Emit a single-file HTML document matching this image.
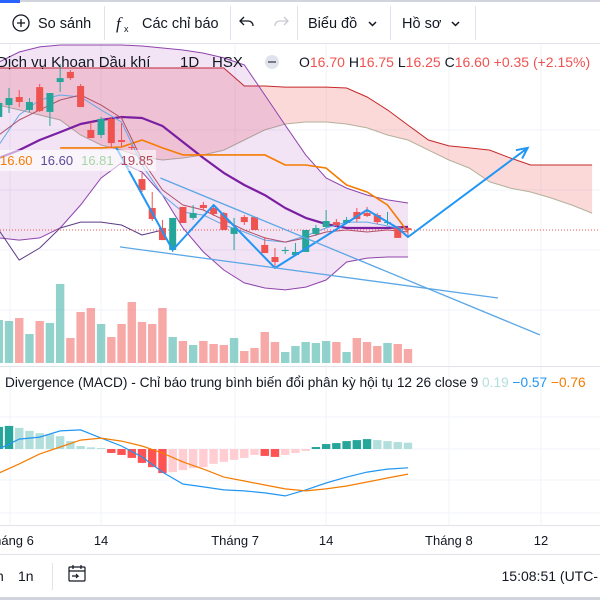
<!DOCTYPE html>
<html><head><meta charset="utf-8"><style>
html,body{margin:0;padding:0;background:#fff;width:600px;height:600px;overflow:hidden}
svg{display:block;font-family:"Liberation Sans","Noto Sans CJK SC",sans-serif}
</style></head><body>
<svg id="c" width="600" height="600" viewBox="0 0 600 600">
<rect x="0" y="0" width="600" height="600" fill="#fff"/>
<g id="grid"></g>
<g id="cloud"></g>
<g id="bb"></g>
<g id="vol"></g>
<g id="lines"></g>
<g id="candles"></g>
<g id="draw"></g>
<g id="macd"></g>
<g id="axis"></g>

<!-- toolbar -->
<rect x="0" y="0" width="600" height="2" fill="#d1d4dc"/>
<rect x="0" y="0" width="20" height="3" fill="#2962ff"/>
<line x1="0" y1="43.5" x2="600" y2="43.5" stroke="#e0e3eb"/>
<g>
<circle cx="21" cy="23" r="8" fill="none" stroke="#131722" stroke-width="1.3"/>
<path d="M17 23h8M21 19v8" stroke="#131722" stroke-width="1.3"/>
<text x="38" y="28" font-size="14.5" fill="#131722">So sánh</text></g>
<line x1="104.5" y1="6" x2="104.5" y2="40" stroke="#e0e3eb"/>
<g>
<text x="116" y="29" font-size="17" font-style="italic" fill="#131722" font-family="Liberation Serif,serif">f</text>
<text x="124" y="32" font-size="9" fill="#131722">x</text>
<text x="142" y="28" font-size="14.5" fill="#131722">Các chỉ báo</text></g>
<line x1="230.5" y1="6" x2="230.5" y2="40" stroke="#e0e3eb"/>
<path d="M244 20l-4 4 4 4M240 24h8c3 0 5 2 5 5" fill="none" stroke="#131722" stroke-width="1.3" transform="translate(0,-3)"/>
<path d="M284 20l4 4-4 4M288 24h-8c-3 0-5 2-5 5" fill="none" stroke="#c8cad0" stroke-width="1.3" transform="translate(0,-3)"/>
<line x1="297.5" y1="6" x2="297.5" y2="40" stroke="#e0e3eb"/>
<g>
<text x="308" y="28" font-size="14.5" fill="#131722">Biểu đồ</text>
<path d="M369 22l3.5 3.5 3.5-3.5" fill="none" stroke="#131722" stroke-width="1.5"/></g>
<line x1="390.5" y1="6" x2="390.5" y2="40" stroke="#e0e3eb"/>
<g>
<text x="402" y="28" font-size="14.5" fill="#131722">Hồ sơ</text>
<path d="M452 22l3.5 3.5 3.5-3.5" fill="none" stroke="#131722" stroke-width="1.5"/></g>
<line x1="475.5" y1="6" x2="475.5" y2="40" stroke="#e0e3eb"/>

<!-- legend -->
<g font-size="15" fill="#131722">
<text x="-3" y="67">Dịch vụ Khoan Dầu khí</text>
<text x="180" y="67">1D</text>
<text x="212" y="67">HSX</text></g>
<circle cx="272" cy="62" r="7" fill="#e0e3eb"/>
<rect x="268" y="61" width="8" height="2" fill="#787b86"/>
<text x="299" y="67" font-size="14" fill="#131722">O<tspan fill="#ef5350">16.70</tspan> H<tspan fill="#ef5350">16.75</tspan> L<tspan fill="#ef5350">16.25</tspan> C<tspan fill="#ef5350">16.60</tspan> <tspan fill="#ef5350">+0.35 (+2.15%)</tspan></text>
<rect x="0" y="150" width="156" height="21" fill="#fff" fill-opacity="0.6"/>
<text x="0" y="165" font-size="13"><tspan fill="#f57c00">16.60</tspan><tspan dx="8" fill="#5e4a9a">16.60</tspan><tspan dx="8" fill="#a5d6a7">16.81</tspan><tspan dx="8" fill="#b34a5a">19.85</tspan></text>

<line x1="0" y1="366.5" x2="600" y2="366.5" stroke="#e0e3eb"/>
<text x="5" y="387" font-size="13.7" fill="#131722">Divergence (MACD) - Chỉ báo trung bình biến đổi phân kỳ hội tụ 12 26 close 9 <tspan fill="#b2dfdb">0.19</tspan> <tspan fill="#2196f3">−0.57</tspan> <tspan fill="#f57c00">−0.76</tspan></text>

<line x1="0" y1="525.5" x2="600" y2="525.5" stroke="#e0e3eb"/>
<line x1="0" y1="554.5" x2="600" y2="554.5" stroke="#e0e3eb"/>
<rect x="0" y="597" width="600" height="3" fill="#d1d4dc"/>
<text x="-4" y="581" font-size="14" fill="#131722">n</text>
<text x="18" y="581" font-size="14" fill="#131722">1n</text>
<line x1="52.5" y1="563" x2="52.5" y2="590" stroke="#e0e3eb"/>
<g fill="none" stroke="#131722" stroke-width="1.2">
<rect x="69" y="567" width="16" height="14" rx="1"/><path d="M69 571h16M73 565v4M81 565v4M72 576h6l-2-2M78 576l-2 2"/></g>
<text x="598" y="581" font-size="14" fill="#131722" text-anchor="end">15:08:51 (UTC-</text>
<text x="620" y="581" font-size="14" fill="#131722">7)</text>
</svg>
<script>
// ---- data ----
var candleIdx=[-1,0,1,2,3,4,5,6,7,8,9,10,11,12,13,14,15,16,17,18,19,20,21,22,23,24,25,26,27,28,29,30,31,32,33,34,35,36,37,38,39];
var opens=[22.88,23.54,23.99,23.27,24.54,23.16,24.82,25.38,24.60,22.16,21.88,22.77,21.60,21.21,19.43,17.82,16.71,15.49,17.88,17.27,17.99,17.82,17.54,16.38,17.32,17.32,15.77,15.10,15.43,15.21,15.38,16.38,16.77,17.04,16.99,17.60,17.54,17.43,16.99,16.77,16.70];
var highs=[23.82,24.49,24.38,23.93,24.71,24.21,25.82,25.49,24.71,22.60,22.88,22.88,22.54,21.32,19.77,18.71,17.16,17.27,17.88,17.99,18.16,17.93,17.60,17.27,17.43,17.32,16.21,15.60,15.66,15.88,16.60,16.88,17.71,17.21,17.32,17.82,17.88,17.54,17.60,16.77,16.75];
var lows=[22.71,23.10,23.43,23.16,23.16,22.38,24.27,24.93,23.43,21.71,21.71,21.16,21.21,21.04,18.71,17.10,16.04,15.38,16.99,17.16,17.71,17.38,16.60,15.49,16.88,16.60,15.32,14.49,15.27,15.16,15.38,16.27,16.71,16.77,16.93,17.04,17.32,16.93,16.88,16.16,16.25];
var closes=[23.66,23.93,23.71,23.71,23.21,24.21,25.04,25.04,23.43,21.71,22.77,21.43,21.49,21.16,18.82,17.21,16.04,17.27,16.99,17.54,17.82,17.49,16.60,16.71,17.04,16.60,15.32,14.82,15.49,15.38,16.60,16.71,17.10,16.88,17.16,17.21,17.38,17.04,17.04,16.16,16.60];
var volumes=[4300,4200,4500,2900,4200,4000,7900,2500,5100,5500,3900,2600,3900,6100,4100,3900,5500,2600,2200,1800,2200,1900,1800,2500,1200,1500,3100,2100,1100,1700,2100,2000,2200,2100,1100,2500,2100,1700,2000,1900,1400];
var lineIdx=[-1,1,3,5,7,9,11,13,15,17,19,21,23,25,27,29,31,33,35,37,39];
var bbUpper=[25.93,26.49,26.77,26.88,26.88,26.88,26.88,26.82,26.71,26.60,26.43,26.16,25.77,24.10,22.43,20.77,19.49,18.93,18.54,18.27,18.10];
var bbLower=[16.16,16.04,16.16,16.71,17.99,19.49,20.32,19.82,18.54,16.71,15.38,14.38,13.66,13.38,13.27,13.43,13.82,14.82,15.04,15.10,15.10];
var bbBasis=[20.60,21.04,21.60,22.04,22.49,22.71,22.88,22.82,22.38,21.49,20.60,19.77,19.10,18.54,17.82,17.27,16.93,16.71,16.71,16.71,16.77];
var kijun=[null,null,null,21.16,21.16,21.16,21.21,21.60,21.16,20.77,20.77,20.77,20.77,20.77,20.21,20.21,20.04,19.10,18.71,17.99,16.49];
var tenkan=[21.32,22.99,23.82,24.10,23.99,23.27,22.60,20.21,18.54,17.60,17.43,16.88,16.49,16.04,15.93,16.27,16.71,17.04,17.04,16.82,16.60];
var maShort=[21.88,22.71,23.27,23.82,24.10,23.54,22.82,20.49,18.82,17.99,17.71,17.16,16.60,16.16,15.93,16.16,16.49,16.60,16.49,16.60,16.49];
var chikouIdx=[-1,1,3,5,7,9,11,13,15];
var chikou=[16.60,14.93,15.60,16.71,17.04,17.04,16.88,16.32,16.60];
var cloudIdx=[-1,1,3,5,7,9,11,13,15,17,19,21,23,25,27,29,31,33,35,37,39,41,43,45,47,49,51,53,55,57];
var spanA=[25.6,25.6,25.6,25.6,25.6,25.6,25.6,25.6,25.6,25.6,25.6,25.6,24.6,24.6,24.54,24.54,24.54,24.49,23.99,23.27,22.43,21.6,21.27,21.16,21.04,20.6,20.21,20.21,20.21,20.21];
var spanB=[23.54,23.27,22.99,22.71,21.88,21.32,21.04,20.66,20.49,20.6,20.77,21.04,21.6,22.16,22.49,22.6,22.6,22.49,22.27,21.88,21.6,21.04,20.49,20.04,19.27,18.93,18.71,18.38,17.99,17.54];
var macdLine=[0,0.30,0.36,0.55,0.58,0.33,0.09,-0.24,-0.70,-1.06,-1.15,-1.24,-1.27,-1.33,-1.42,-1.24,-1.03,-0.85,-0.70,-0.61,-0.57];
var signalLine=[-0.73,-0.45,-0.15,0.06,0.27,0.33,0.24,0.09,-0.12,-0.39,-0.61,-0.85,-0.97,-1.09,-1.21,-1.27,-1.21,-1.12,-1.00,-0.88,-0.76];
var histogram=[0.67,0.70,0.64,0.55,0.48,0.45,0.39,0.24,0.09,0.05,0.03,-0.12,-0.18,-0.27,-0.42,-0.55,-0.73,-0.70,-0.64,-0.58,-0.55,-0.45,-0.39,-0.33,-0.27,-0.18,-0.21,-0.24,-0.18,-0.12,-0.06,0.06,0.15,0.18,0.24,0.27,0.30,0.27,0.24,0.21,0.19];
var zigzagIdx=[10.5,16,20,26,35,38,39,50.7];
var zigzagPrice=[21.16,15.49,17.99,14.49,17.71,16.71,16.21,21.16];
var trend1Idx=[10.85,47.8], trend1Price=[15.66,12.82];
var trend2Idx=[14.8,51.9], trend2Price=[19.49,10.77];
var tickIdx=[0.1,9,22.1,31,43,52];
var tickLabels=["Tháng 6","14","Tháng 7","14","Tháng 8","12"];
var lastPrice=16.60;

// ---- scales ----
var NS='http://www.w3.org/2000/svg';
function X(i){return 9+10.23*i;}
function Y(p){return 230-(p-16.6)*18;}
function VY(v){return 363-v*0.01;}
function MY(v){return 449-v*33;}
function mk(tag,parent,attrs){var e=document.createElementNS(NS,tag);for(var k in attrs)e.setAttribute(k,attrs[k]);document.getElementById(parent).appendChild(e);return e;}
function pts(ix,vals,f){var s=[];for(var j=0;j<ix.length;j++){if(vals[j]!==null)s.push(X(ix[j]).toFixed(1)+','+f(vals[j]).toFixed(1));}return s.join(' ');}

// grid
tickIdx.forEach(function(t){var g=mk('line','grid',{x1:X(t),x2:X(t),y1:44,y2:525,stroke:'#f0f3fa'});

});
[130,190,250,310,417,480,513].forEach(function(y){var g=mk('line','grid',{x1:0,x2:600,y1:y,y2:y,stroke:'#f0f3fa'});

});

// cloud
var cu=[],cl=[];
for(var j=0;j<cloudIdx.length;j++){cu.push(X(cloudIdx[j])+','+Y(spanA[j]));cl.unshift(X(cloudIdx[j])+','+Y(spanB[j]));}
var cf=mk('polygon','cloud',{points:cu.concat(cl).join(' '),fill:'rgba(239,83,80,0.22)'});


var ca=mk('polyline','cloud',{points:pts(cloudIdx,spanA,Y),fill:'none',stroke:'#c62828','stroke-width':1});


var cb=mk('polyline','cloud',{points:pts(cloudIdx,spanB,Y),fill:'none',stroke:'#b5b09a','stroke-width':1});



// bollinger
var bu=[],bl=[];
for(var j=0;j<lineIdx.length;j++){bu.push(X(lineIdx[j])+','+Y(bbUpper[j]));bl.unshift(X(lineIdx[j])+','+Y(bbLower[j]));}
var bf=mk('polygon','bb',{points:bu.concat(bl).join(' '),fill:'rgba(156,39,176,0.13)'});


var b1=mk('polyline','bb',{points:pts(lineIdx,bbUpper,Y),fill:'none',stroke:'#8e44ad','stroke-width':1});


var b2=mk('polyline','bb',{points:pts(lineIdx,bbLower,Y),fill:'none',stroke:'#8e44ad','stroke-width':1});



// volume
for(var i=0;i<candleIdx.length;i++){var up=closes[i]>=opens[i];
var vb=mk('rect','vol',{x:X(candleIdx[i])-4.2,y:VY(volumes[i]),width:8.4,height:363-VY(volumes[i]),fill:up?'rgba(38,166,154,0.5)':'rgba(239,83,80,0.5)'});

}

// lines
function pl(ix,vals,col,w){var e=mk('polyline','lines',{points:pts(ix,vals,Y),fill:'none',stroke:col,'stroke-width':w,'stroke-linejoin':'round'});return e;}
var l1=pl(lineIdx,bbBasis,'#7b1fa2',2.2);


var l2=pl(lineIdx,kijun,'#f57c00',1.6);


var l3=pl(lineIdx,tenkan,'#64a8e8',1);


var l4=pl(lineIdx,maShort,'#b0506a',1);


var l5=pl(chikouIdx,chikou,'#5e3a87',1);


var lp=mk('line','lines',{x1:0,x2:600,y1:Y(lastPrice),y2:Y(lastPrice),stroke:'#ef5350','stroke-dasharray':'1 2','stroke-width':1});



// candles
for(var i=0;i<candleIdx.length;i++){var up=closes[i]>=opens[i],col=up?'#26a69a':'#ef5350',x=X(candleIdx[i]);
var w=mk('line','candles',{x1:x,x2:x,y1:Y(highs[i]),y2:Y(lows[i]),stroke:col,'stroke-width':1});


var t=Math.min(Y(opens[i]),Y(closes[i])),h=Math.max(1,Math.abs(Y(opens[i])-Y(closes[i])));
var b=mk('rect','candles',{x:x-3.5,y:t,width:7,height:h,fill:col});

}

// drawings
var zz=mk('polyline','draw',{points:pts(zigzagIdx,zigzagPrice,Y),fill:'none',stroke:'#2196f3','stroke-width':2,'stroke-linejoin':'round'});


var n=zigzagIdx.length,ex=X(zigzagIdx[n-1]),ey=Y(zigzagPrice[n-1]),px=X(zigzagIdx[n-2]),py=Y(zigzagPrice[n-2]);
var ang=Math.atan2(ey-py,ex-px),ah=12;
var arr=mk('polyline','draw',{points:(ex-ah*Math.cos(ang-0.45))+','+(ey-ah*Math.sin(ang-0.45))+' '+ex+','+ey+' '+(ex-ah*Math.cos(ang+0.45))+','+(ey-ah*Math.sin(ang+0.45)),fill:'none',stroke:'#2196f3','stroke-width':2});


var t1=mk('polyline','draw',{points:pts(trend1Idx,trend1Price,Y),fill:'none',stroke:'#5ba7e6','stroke-width':1.3});


var t2=mk('polyline','draw',{points:pts(trend2Idx,trend2Price,Y),fill:'none',stroke:'#5ba7e6','stroke-width':1.3});



// macd
var z=mk('line','macd',{x1:0,x2:600,y1:MY(0),y2:MY(0),stroke:'#f0f3fa'});


for(var i=0;i<histogram.length;i++){var v=histogram[i],pv=i>0?histogram[i-1]:v-0.01,col;
if(v>=0)col=v>=pv?'#26a69a':'#b2dfdb';else col=v<pv?'#ff5252':'#ffcdd2';
var y0=MY(0),y1=MY(v);
var hb=mk('rect','macd',{x:X(candleIdx[i])-4.2,y:Math.min(y0,y1),width:8.4,height:Math.max(1,Math.abs(y1-y0)),fill:col});

}
var ml=mk('polyline','macd',{points:pts(lineIdx,macdLine,MY),fill:'none',stroke:'#2196f3','stroke-width':1.2});


var sl=mk('polyline','macd',{points:pts(lineIdx,signalLine,MY),fill:'none',stroke:'#f57c00','stroke-width':1.2});



// axis
for(var j=0;j<tickIdx.length;j++){var tx=mk('text','axis',{x:X(tickIdx[j]),y:545,'font-size':13,fill:'#131722','text-anchor':'middle'});
tx.textContent=tickLabels[j];

}
</script>
</body></html>
